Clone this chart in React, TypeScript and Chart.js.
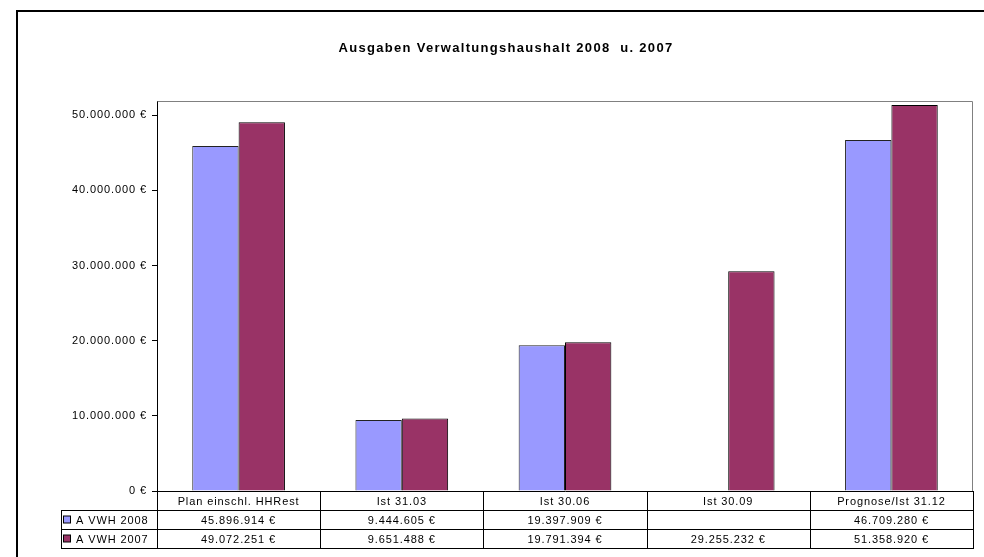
import React, { useEffect, useRef } from "react";
import { Chart, registerables } from "chart.js";

Chart.register(...registerables);

const titleText = "Ausgaben Verwaltungshaushalt 2008  u. 2007";
const categories = ["Plan einschl. HHRest", "Ist 31.03", "Ist 30.06", "Ist 30.09", "Prognose/Ist 31.12"];
const seriesLabels = ["A VWH 2008", "A VWH 2007"];
const series2008 = [45896914, 9444605, 19397909, null, 46709280];
const series2007 = [49072251, 9651488, 19791394, 29255232, 51358920];
const yTickValues = [0, 10000000, 20000000, 30000000, 40000000, 50000000];
const seriesColors = ["#9999FF", "#993366"];

const FONT = "'Liberation Sans', Arial, sans-serif";

function fmt(n: number): string {
  return String(Math.round(n)).replace(/\B(?=(\d{3})+(?!\d))/g, ".") + " €";
}

const framePlugin = {
  id: "frameAndTable",
  beforeDraw(chart: any) {
    const ctx = chart.ctx;
    ctx.save();
    ctx.strokeStyle = "#000";
    ctx.lineWidth = 2;
    ctx.beginPath();
    ctx.moveTo(17, 600);
    ctx.lineTo(17, 11);
    ctx.lineTo(1000, 11);
    ctx.stroke();
    ctx.restore();
    // title (drawn in the z=0 layer) uses wider spacing
    ctx.letterSpacing = "1.3px";
  },
  beforeDatasetsDraw(chart: any) {
    const { ctx, chartArea: ca } = chart;
    ctx.save();
    ctx.strokeStyle = "#808080";
    ctx.lineWidth = 1;
    ctx.beginPath();
    ctx.moveTo(Math.round(ca.left) + 0.5, Math.round(ca.top) + 0.5);
    ctx.lineTo(Math.round(ca.right) - 0.5, Math.round(ca.top) + 0.5);
    ctx.lineTo(Math.round(ca.right) - 0.5, Math.round(ca.bottom));
    ctx.stroke();
    ctx.restore();
  },
  afterDatasetsDraw(chart: any) {
    // y tick labels (z=1 layer) use normal spacing
    chart.ctx.letterSpacing = "0.9px";
  },
  afterDraw(chart: any) {
    const { ctx, chartArea: ca, scales } = chart;
    const x = scales.x;
    const n = categories.length;
    const cw = (ca.right - ca.left) / n;
    const y0 = Math.round(ca.bottom);
    const rowH = 19;
    const y1 = y0 + rowH;
    const y2 = y1 + rowH;
    const y3 = y2 + rowH;
    const legendLeft = 61;
    ctx.save();
    ctx.letterSpacing = "0.9px";
    ctx.strokeStyle = "#000";
    ctx.lineWidth = 1;
    ctx.beginPath();
    [y1, y2, y3].forEach((yy) => {
      ctx.moveTo(legendLeft, yy + 0.5);
      ctx.lineTo(Math.round(ca.right), yy + 0.5);
    });
    ctx.moveTo(legendLeft + 0.5, y1);
    ctx.lineTo(legendLeft + 0.5, y3 + 1);
    for (let i = 0; i <= n; i++) {
      const xx = Math.round(ca.left + i * cw) + 0.5;
      ctx.moveTo(xx, y0);
      ctx.lineTo(xx, y3 + 1);
    }
    ctx.stroke();

    ctx.fillStyle = "#000";
    ctx.font = `11px ${FONT}`;
    ctx.textAlign = "center";
    ctx.textBaseline = "middle";
    categories.forEach((c, i) => {
      const cx = x.getPixelForValue(i);
      ctx.fillText(c, cx, (y0 + y1) / 2 + 1);
    });
    const rows = [series2008, series2007];
    rows.forEach((row, r) => {
      const yTop = y1 + r * rowH;
      const cy = yTop + rowH / 2 + 1;
      row.forEach((v, i) => {
        if (v === null || v === undefined) return;
        ctx.fillText(fmt(v), x.getPixelForValue(i), cy);
      });
      ctx.fillStyle = seriesColors[r];
      ctx.fillRect(63.5, cy - 4.5, 7, 7);
      ctx.strokeStyle = "#000";
      ctx.strokeRect(63.5, cy - 4.5, 7, 7);
      ctx.fillStyle = "#000";
      ctx.textAlign = "left";
      ctx.fillText(seriesLabels[r], 76, cy);
      ctx.textAlign = "center";
    });
    ctx.restore();
  },
};

export default function App() {
  const ref = useRef<HTMLCanvasElement>(null);
  useEffect(() => {
    if (!ref.current) return;
    const chart = new Chart(ref.current, {
      type: "bar",
      data: {
        labels: categories,
        datasets: [
          {
            label: seriesLabels[0],
            data: series2008,
            backgroundColor: seriesColors[0],
            borderColor: "#222",
            borderWidth: 1,
            barPercentage: 1,
            categoryPercentage: 0.568,
          },
          {
            label: seriesLabels[1],
            data: series2007,
            backgroundColor: seriesColors[1],
            borderColor: "#000",
            borderWidth: 1,
            barPercentage: 1,
            categoryPercentage: 0.568,
          },
        ],
      },
      options: {
        animation: false,
        responsive: false,
        maintainAspectRatio: false,
        layout: { padding: { left: 39, right: 11, top: 0, bottom: 0 } },
        plugins: {
          legend: { display: false },
          tooltip: { enabled: false },
          title: {
            display: true,
            text: titleText,
            color: "#000",
            font: { family: FONT, size: 13, weight: "bold", lineHeight: 1.2 },
            padding: { top: 40.2, bottom: 45.2 },
          } as any,
        },
        scales: {
          x: {
            grid: { display: false, drawTicks: false },
            border: { display: true, color: "#000", width: 1 },
            ticks: { display: false },
            afterFit: (s: any) => {
              s.height = 66;
            },
          },
          y: {
            min: 0,
            max: 51900000,
            afterBuildTicks: (s: any) => {
              s.ticks = yTickValues.map((v) => ({ value: v }));
            },
            afterFit: (s: any) => {
              s.width = 118;
            },
            grid: {
              drawOnChartArea: false,
              drawTicks: true,
              tickLength: 5,
              color: "#000",
            },
            border: { display: true, color: "#000", width: 1 },
            ticks: {
              z: 1,
              color: "#000",
              font: { family: FONT, size: 11 },
              padding: 5,
              callback: (v: any) => fmt(Number(v)),
            },
          },
        },
      },
      plugins: [framePlugin],
    });
    return () => chart.destroy();
  }, []);
  return (
    <div style={{ position: "absolute", left: 0, top: 0, width: 984, height: 557, background: "#fff" }}>
      <canvas ref={ref} width={984} height={557} style={{ width: 984, height: 557, display: "block" }} />
    </div>
  );
}
